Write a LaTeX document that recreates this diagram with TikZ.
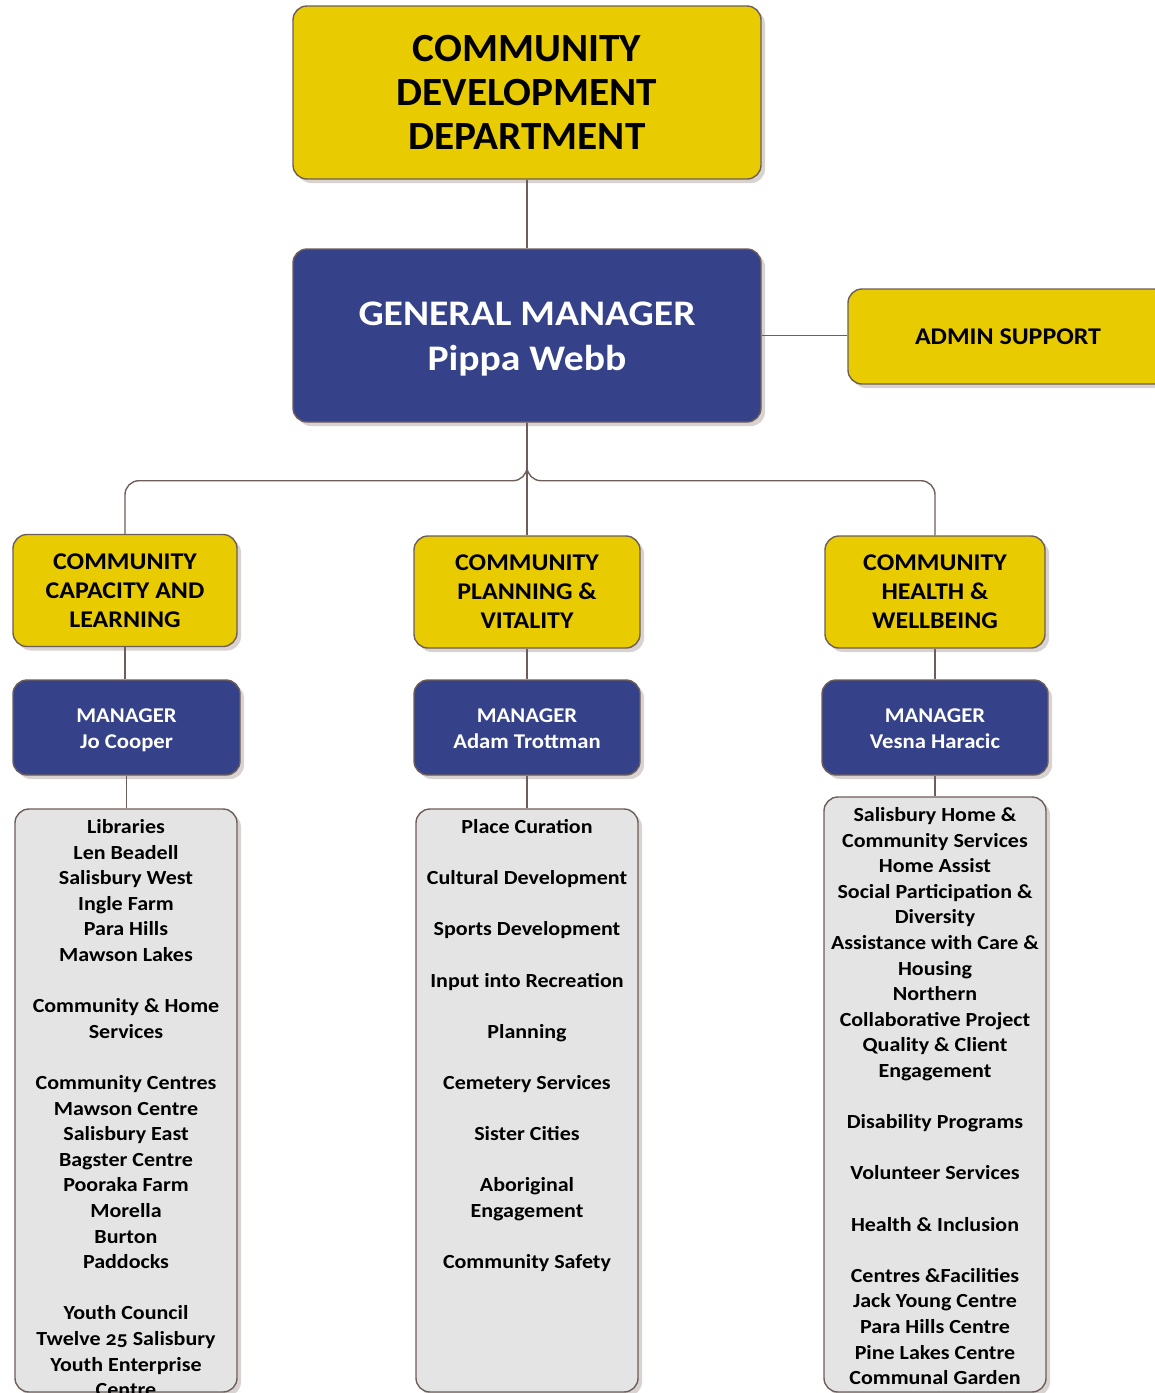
\documentclass[tikz,border=0pt]{standalone}
\usepackage{fontspec}
\setmainfont{Carlito}[Numbers=OldStyle]
\usetikzlibrary{shadows}
\definecolor{yel}{HTML}{E8CB00}
\definecolor{blu}{HTML}{35428A}
\definecolor{brd}{HTML}{6E5E59}
\definecolor{gry}{HTML}{E4E4E4}
\definecolor{shd}{HTML}{D8D2D0}
\newcommand{\stretchf}[1]{\addfontfeature{FakeStretch=#1}}
\tikzset{
  box/.style={draw=brd, line width=1.4pt, rounded corners=14pt, inner sep=0pt, align=center,
    drop shadow={shadow xshift=4pt, shadow yshift=-4pt, fill=shd, opacity=1}},
  ybox/.style={box, fill=yel, text=black},
  bbox/.style={box, fill=blu, text=white},
  gbox/.style={box, fill=gry, text=black},
  conn/.style={draw=brd, line width=1.4pt},
}
\begin{document}
\begin{tikzpicture}[x=1pt,y=-1pt]
\useasboundingbox (0,0) rectangle (1155,1393);
\clip (0,0) rectangle (1155,1393);
% top
\node[ybox, minimum width=468pt, minimum height=173pt,
  font=\bfseries\fontsize{40}{44}\selectfont\stretchf{1.03}] (dept) at (527,92.5)
  {COMMUNITY\\DEVELOPMENT\\DEPARTMENT};
\node[bbox, minimum width=468pt, minimum height=173pt,
  font=\bfseries\fontsize{36}{45}\selectfont\stretchf{1.1}] (gm) at (527,335.5)
  {\rule{0pt}{37.5pt}GENERAL MANAGER\\Pippa Webb\strut};
\node[ybox, minimum width=320pt, minimum height=95pt,
  font=\bfseries\fontsize{24}{26}\selectfont\stretchf{1.08}] (admin) at (1008,336.5)
  {ADMIN SUPPORT};
% level 2
\tikzset{l2/.style={ybox, minimum height=112pt, font=\bfseries\fontsize{24}{29}\selectfont\stretchf{1.08}}}
\node[l2, minimum width=224pt] (ccl) at (125,590.5) {COMMUNITY\\CAPACITY AND\\LEARNING};
\node[l2, minimum width=226pt] (cpv) at (527,592) {COMMUNITY\\PLANNING \&\\VITALITY};
\node[l2, minimum width=220pt] (chw) at (935,592) {COMMUNITY\\HEALTH \&\\WELLBEING};
% managers
\tikzset{mgr/.style={bbox, minimum height=95pt, minimum width=227pt, font=\bfseries\fontsize{21}{26}\selectfont\stretchf{1.08}}}
\node[mgr] (m1) at (126.5,727.5) {\rule{0pt}{23.5pt}MANAGER\\Jo Cooper\strut};
\node[mgr, minimum width=226pt] (m2) at (527,727.5) {\rule{0pt}{23.5pt}MANAGER\\Adam Trottman\strut};
\node[mgr, minimum width=226pt] (m3) at (935,727.5) {\rule{0pt}{23.5pt}MANAGER\\Vesna Haracic\strut};
% lists
\node[gbox, minimum width=222pt, minimum height=583pt] (g1) at (126,1100.5) {};
\node[gbox, minimum width=222pt, minimum height=583pt] (g2) at (527,1100.5) {};
\node[gbox, minimum width=222pt, minimum height=595pt] (g3) at (935,1094.5) {};
\tikzset{lst/.style={anchor=north, align=center, inner sep=0pt, font=\bfseries\fontsize{20}{25.6}\selectfont\stretchf{1.1}}}
\node[lst] (t1) at ([yshift=-11pt]g1.north) {Libraries\\Len Beadell\\Salisbury West\\Ingle Farm\\Para Hills\\Mawson Lakes\\[25.6pt]
Community \& Home\\Services\\[25.6pt]
Community Centres\\Mawson Centre\\Salisbury East\\Bagster Centre\\Pooraka Farm\\Morella\\Burton\\Paddocks\\[25.6pt]
Youth Council\\Twelve 25 Salisbury\\Youth Enterprise\\Centre};
\node[lst] (t2) at ([yshift=-11pt]g2.north) {Place Curation\\[25.6pt]Cultural Development\\[25.6pt]Sports Development\\[25.6pt]Input into Recreation\\[25.6pt]Planning\\[25.6pt]Cemetery Services\\[25.6pt]Sister Cities\\[25.6pt]Aboriginal\\Engagement\\[25.6pt]Community Safety};
\node[lst] (t3) at ([yshift=-11pt]g3.north) {Salisbury Home \&\\Community Services\\Home Assist\\Social Participation \&\\Diversity\\Assistance with Care \&\\Housing\\Northern\\Collaborative Project\\Quality \& Client\\Engagement\\[25.6pt]
Disability Programs\\[25.6pt]Volunteer Services\\[25.6pt]Health \& Inclusion\\[25.6pt]
Centres \&Facilities\\Jack Young Centre\\Para Hills Centre\\Pine Lakes Centre\\Communal Garden};
% connectors
\draw[conn] (dept.south) -- (gm.north);
\draw[conn] (gm.east) -- (gm.east -| admin.west);
\draw[conn, rounded corners=14pt] (gm.south) -- ++(0,58) -| (ccl.north);
\draw[conn, rounded corners=14pt] (gm.south) -- ++(0,58) -| (chw.north);
\draw[conn] (gm.south) -- (cpv.north);
\draw[conn] (ccl.south) -- (m1.north -| ccl.south);
\draw[conn] (cpv.south) -- (m2.north);
\draw[conn] (chw.south) -- (m3.north);
\draw[conn] (m1.south) -- (g1.north -| m1.south);
\draw[conn] (m2.south) -- (g2.north);
\draw[conn] (m3.south) -- (g3.north);
\end{tikzpicture}
\end{document}
